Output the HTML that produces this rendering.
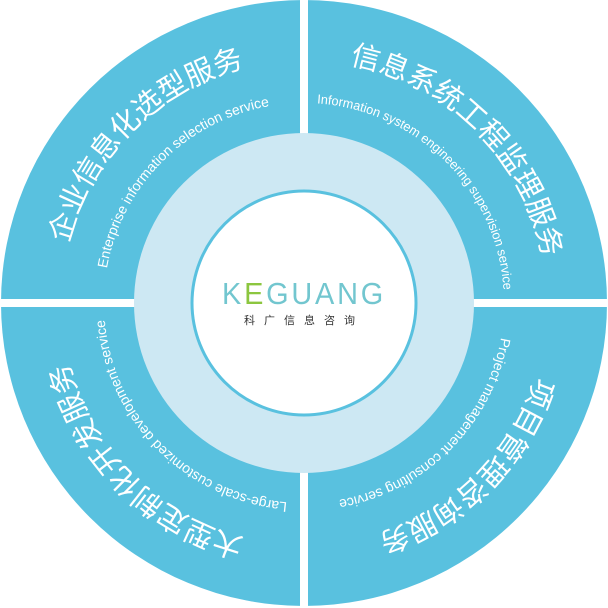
<!DOCTYPE html>
<html><head><meta charset="utf-8"><style>html,body{margin:0;padding:0;background:#fff}svg{display:block}</style></head>
<body>
<svg width="608" height="608" viewBox="0 0 608 608" xmlns="http://www.w3.org/2000/svg">
<defs>
<path id="c1" d="M61,303 A243,243 0 0 1 304,60"/>
<path id="c2" d="M304,60 A243,243 0 0 1 547,303"/>
<path id="c3" d="M547,303 A243,243 0 0 1 304,546"/>
<path id="c4" d="M304,546 A243,243 0 0 1 61,303"/>
<path id="e1" d="M104,303 A200,200 0 0 1 304,103"/>
<path id="e2" d="M304,103 A200,200 0 0 1 504,303"/>
<path id="e3" d="M504,303 A200,200 0 0 1 304,503"/>
<path id="e4" d="M304,503 A200,200 0 0 1 104,303"/>
</defs>
<circle cx="304" cy="303" r="303" fill="#59c1df"/>
<rect x="0" y="299" width="608" height="8" fill="#fff"/>
<rect x="300" y="0" width="8" height="608" fill="#fff"/>
<circle cx="304" cy="303" r="170" fill="#cde8f3"/>
<circle cx="304" cy="303" r="112" fill="#fff" stroke="#59c1df" stroke-width="3"/>
<g font-family="Liberation Sans, Noto Sans CJK SC, sans-serif" fill="#fff" text-anchor="middle">
<text font-size="29"><textPath href="#c1" startOffset="50%">企业信息化选型服务</textPath></text>
<text font-size="29"><textPath href="#c2" startOffset="50%">信息系统工程监理服务</textPath></text>
<text font-size="29"><textPath href="#c3" startOffset="50%">项目管理咨询服务</textPath></text>
<text font-size="29"><textPath href="#c4" startOffset="50%">大型定制化开发服务</textPath></text>
<text font-size="14"><textPath href="#e1" startOffset="50%">Enterprise information selection service</textPath></text>
<text font-size="13"><textPath href="#e2" startOffset="50%" textLength="288" lengthAdjust="spacingAndGlyphs">Information system engineering supervision service</textPath></text>
<text font-size="14"><textPath href="#e3" startOffset="50%">Project management consulting service</textPath></text>
<text font-size="14"><textPath href="#e4" startOffset="50%">Large-scale customized development service</textPath></text>
</g>
<text x="304" y="304" text-anchor="middle" font-family="Liberation Sans, sans-serif" font-size="31" letter-spacing="3" fill="#72c6cf" textLength="164" lengthAdjust="spacingAndGlyphs">K<tspan fill="#8cc63f">E</tspan>GUANG</text>
<text x="304" y="324" text-anchor="middle" font-family="Liberation Sans, Noto Sans CJK SC, sans-serif" font-size="11" letter-spacing="9" fill="#333">科广信息咨询</text>
</svg>
</body></html>
